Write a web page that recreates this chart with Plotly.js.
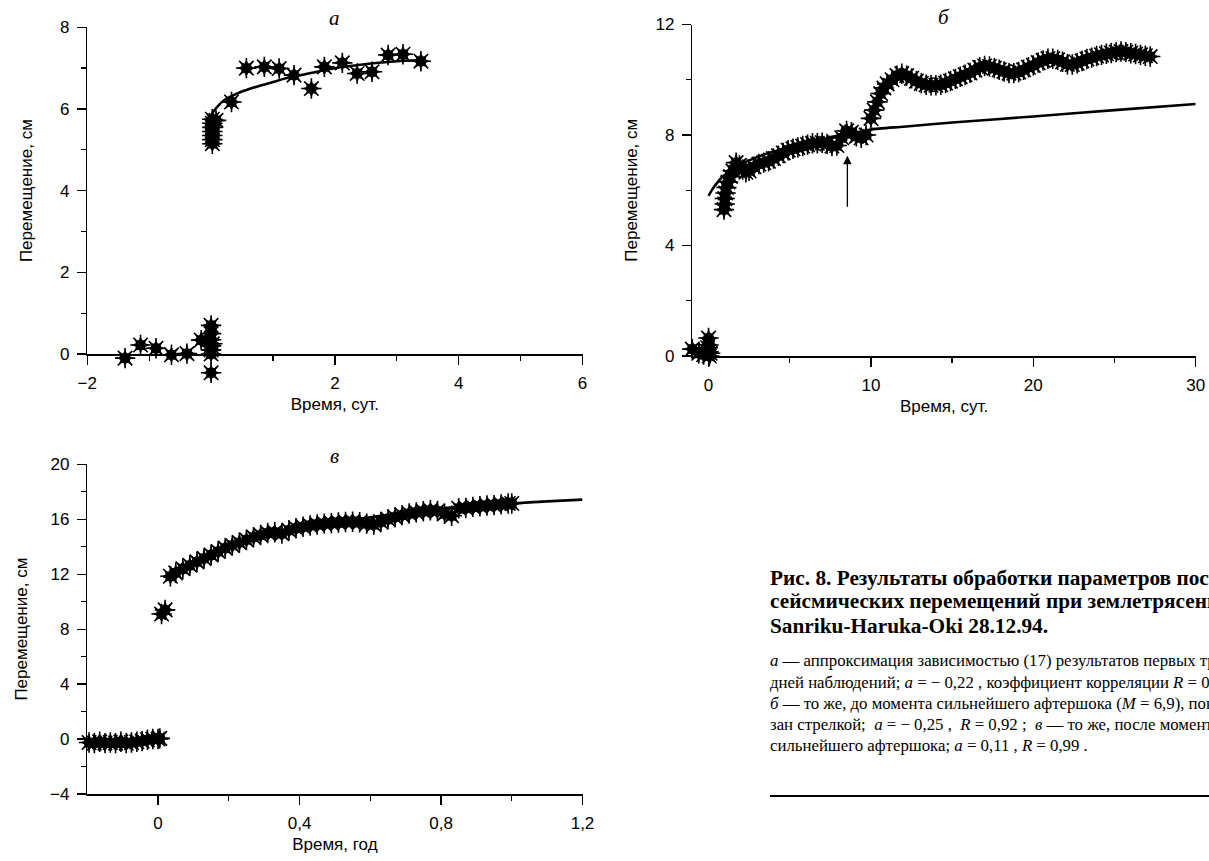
<!DOCTYPE html>
<html><head><meta charset="utf-8">
<script src="https://cdn.plot.ly/plotly-3.0.1.min.js"></script>
<style>html,body{margin:0;padding:0;background:#fff;overflow:hidden}#chart{width:1209px;height:861px}</style>
</head><body><div id="chart"></div>
<script>
// ---------- Panel а (days) ----------
const aPreX = [-1.39, -1.14, -0.89, -0.64, -0.39, -0.16, 0.0, 0.0, 0.0, 0.0, 0.0, 0.0, 0.0, 0.02];
const aPreY = [-0.10, 0.22, 0.14, -0.02, 0.01, 0.34, 0.70, 0.50, 0.35, 0.20, 0.10, 0.00, -0.46, 0.25];
const aPostX = [0.02, 0.02, 0.02, 0.02, 0.02, 0.02, 0.02, 0.08, 0.33, 0.57, 0.86, 1.10, 1.34, 1.62, 1.83, 2.12, 2.36, 2.60, 2.86, 3.10, 3.39];
const aPostY = [5.15, 5.25, 5.35, 5.45, 5.55, 5.65, 5.75, 5.72, 6.17, 7.00, 7.03, 6.99, 6.83, 6.50, 7.03, 7.13, 6.87, 6.91, 7.32, 7.34, 7.17];
const aFitX = [0.02, 0.1, 0.2, 0.47, 0.75, 1.0, 1.25, 1.55, 1.8, 2.08, 2.35, 2.62, 3.0, 3.38];
const aFitY = [5.90, 6.05, 6.20, 6.41, 6.55, 6.66, 6.77, 6.86, 6.94, 7.02, 7.07, 7.12, 7.17, 7.20];
const aXTicks = [-2, 2, 4, 6], aXMinor = [-1, 1, 3, 5];
const aYTicks = [0, 2, 4, 6, 8], aYMinor = [1, 3, 5, 7];

// ---------- Panel б (days) ----------
const bPreX = [-1.0, -0.6, -0.3, -0.15, -0.05, 0.0, 0.0, 0.0, 0.05, 0.1];
const bPreY = [0.25, 0.10, 0.05, 0.20, 0.30, 0.65, 0.40, 0.15, 0.00, 0.10];
const bPostX = [0.95, 1.0, 1.0, 1.05, 1.1, 1.2, 1.35, 1.5, 1.7, 1.9, 2.1, 2.3, 2.5, 2.8, 3.1, 3.4, 3.7, 4.0, 4.3, 4.6, 4.9, 5.2, 5.5, 5.8, 6.1, 6.4, 6.7, 7.0, 7.3, 7.6, 7.9, 8.2, 8.5, 8.8, 9.1, 9.4, 9.7, 10.0, 10.2, 10.4, 10.6, 10.8, 11.0, 11.3, 11.6, 11.9, 12.2, 12.5, 12.8, 13.1, 13.4, 13.7, 14.0, 14.3, 14.6, 14.9, 15.2, 15.5, 15.8, 16.1, 16.4, 16.7, 17.0, 17.3, 17.6, 17.9, 18.2, 18.5, 18.8, 19.1, 19.4, 19.7, 20.0, 20.3, 20.6, 20.9, 21.2, 21.5, 21.8, 22.1, 22.4, 22.7, 23.0, 23.3, 23.6, 23.9, 24.2, 24.5, 24.8, 25.1, 25.4, 25.7, 26.0, 26.3, 26.6, 26.9, 27.2];
const bPostY = [5.3, 5.5, 5.7, 5.9, 6.1, 6.3, 6.5, 6.7, 7.0, 6.9, 6.75, 6.65, 6.7, 6.85, 6.95, 7.0, 7.05, 7.15, 7.25, 7.35, 7.45, 7.5, 7.55, 7.6, 7.65, 7.7, 7.7, 7.72, 7.68, 7.6, 7.62, 7.9, 8.15, 8.1, 7.95, 7.9, 8.0, 8.6, 8.9, 9.2, 9.5, 9.7, 9.85, 10.0, 10.15, 10.22, 10.15, 10.05, 9.95, 9.87, 9.82, 9.8, 9.8, 9.82, 9.88, 9.95, 10.03, 10.11, 10.18, 10.25, 10.35, 10.45, 10.5, 10.48, 10.42, 10.36, 10.3, 10.24, 10.24, 10.28, 10.36, 10.45, 10.52, 10.62, 10.7, 10.76, 10.76, 10.72, 10.65, 10.56, 10.55, 10.6, 10.68, 10.75, 10.8, 10.86, 10.9, 10.94, 10.97, 11.0, 11.02, 11.0, 10.96, 10.93, 10.9, 10.87, 10.84];
const bFitX = [0, 0.25, 0.5, 0.75, 1, 1.5, 2, 3, 4, 5, 6, 7, 8, 9, 10, 12, 15, 20, 25, 30];
const bFitY = [5.80, 6.05, 6.25, 6.42, 6.55, 6.78, 6.95, 7.20, 7.40, 7.55, 7.70, 7.85, 7.98, 8.08, 8.20, 8.30, 8.45, 8.67, 8.90, 9.12];
const bArrowX = 8.55, bArrowFromY = 5.35, bArrowToY = 7.25;
const bXTicks = [0, 10, 20, 30], bXMinor = [5, 15, 25];
const bYTicks = [0, 4, 8, 12], bYMinor = [2, 6, 10];

// ---------- Panel в (years) ----------
const cPreX = [-0.195, -0.18, -0.165, -0.15, -0.135, -0.12, -0.105, -0.09, -0.075, -0.06, -0.045, -0.03, -0.015, 0.0, 0.005];
const cPreY = [-0.25, -0.30, -0.20, -0.30, -0.25, -0.30, -0.20, -0.30, -0.25, -0.20, -0.15, -0.05, 0.00, 0.00, 0.05];
const cPostX = [0.01, 0.02, 0.035, 0.05, 0.07, 0.09, 0.11, 0.13, 0.15, 0.17, 0.19, 0.21, 0.23, 0.25, 0.27, 0.29, 0.31, 0.33, 0.35, 0.37, 0.39, 0.41, 0.43, 0.45, 0.47, 0.49, 0.51, 0.53, 0.55, 0.57, 0.59, 0.61, 0.63, 0.65, 0.67, 0.69, 0.71, 0.73, 0.75, 0.77, 0.79, 0.81, 0.83, 0.85, 0.87, 0.89, 0.91, 0.93, 0.95, 0.97, 0.99, 1.0];
const cPostY = [9.1, 9.4, 11.85, 12.1, 12.4, 12.65, 12.9, 13.15, 13.4, 13.65, 13.9, 14.1, 14.3, 14.5, 14.7, 14.85, 15.0, 15.05, 14.95, 15.2, 15.35, 15.45, 15.55, 15.62, 15.68, 15.72, 15.76, 15.8, 15.82, 15.78, 15.68, 15.62, 15.8, 16.0, 16.15, 16.3, 16.42, 16.5, 16.58, 16.65, 16.6, 16.4, 16.25, 16.8, 16.82, 16.9, 16.95, 17.0, 17.03, 17.08, 17.15, 17.15];
const cFitX = [0.015, 0.03, 0.05, 0.1, 0.15, 0.2, 0.3, 0.4, 0.5, 0.6, 0.7, 0.8, 0.9, 1.0, 1.1, 1.2];
const cFitY = [11.8, 11.9, 12.2, 12.85, 13.4, 13.9, 14.7, 15.3, 15.75, 16.15, 16.5, 16.8, 17.0, 17.15, 17.3, 17.43];
const cXTicks = [0, 0.4, 0.8, 1.2], cXMinor = [0.2, 0.6, 1.0];
const cYTicks = [-4, 0, 4, 8, 12, 16, 20], cYMinor = [-2, 2, 6, 10, 14, 18];

// ---------- Texts ----------
const panelLetters = ['а', 'б', 'в'];
const xTitles = ['Время, сут.', 'Время, сут.', 'Время, год'];
const yTitle = 'Перемещение, см';
const captionBold = [
  'Рис. 8. Результаты обработки параметров пост-',
  'сейсмических перемещений при землетрясении',
  'Sanriku-Haruka-Oki 28.12.94.'
];
const captionBody = [
  '<i>а</i> — аппроксимация зависимостью (17) результатов первых трех',
  'дней наблюдений; <i>a</i> = − 0,22 , коэффициент корреляции <i>R</i> = 0,96 ;',
  '<i>б</i> — то же, до момента сильнейшего афтершока (<i>M</i> = 6,9), пока-',
  'зан стрелкой;  <i>a</i> = − 0,25 ,  <i>R</i> = 0,92 ;  <i>в</i> — то же, после момента',
  'сильнейшего афтершока; <i>a</i> = 0,11 , <i>R</i> = 0,99 .'
];

// ---------- Build ----------
const W = 1209, H = 861;
const SANS = 'Liberation Sans, Arial, sans-serif';
const SERIF = 'Liberation Serif, Times New Roman, serif';
const px = v => v / W, py = v => 1 - v / H;

function starTraces(x, y, xa, ya) {
  return [
    {x, y, xaxis: xa, yaxis: ya, type: 'scatter', mode: 'markers', cliponaxis: false, hoverinfo: 'skip',
     marker: {symbol: 'asterisk-open', size: 17, color: '#000', line: {width: 1.6, color: '#000'}}},
    {x, y, xaxis: xa, yaxis: ya, type: 'scatter', mode: 'markers', cliponaxis: false, hoverinfo: 'skip',
     marker: {symbol: 'star-diamond', size: 13, color: '#000', line: {width: 0}}},
    {x, y, xaxis: xa, yaxis: ya, type: 'scatter', mode: 'markers', cliponaxis: false, hoverinfo: 'skip',
     marker: {symbol: 'star-square', size: 12, color: '#000', line: {width: 0}}}
  ];
}
function fitTrace(x, y, xa, ya) {
  return {x, y, xaxis: xa, yaxis: ya, type: 'scatter', mode: 'lines', hoverinfo: 'skip',
          line: {color: '#000', width: 2.6, shape: 'spline', smoothing: 0.6}};
}

// panel а markers go on a hidden twin y-axis with the same scale that extends below zero,
// so the points lying slightly under the zero line are not hidden
const traces = [].concat(
  starTraces(aPreX, aPreY, 'x', 'y4'), starTraces(aPostX, aPostY, 'x', 'y4'), [fitTrace(aFitX, aFitY, 'x', 'y')],
  [fitTrace(bFitX, bFitY, 'x2', 'y2')], starTraces(bPreX, bPreY, 'x2', 'y2'), starTraces(bPostX, bPostY, 'x2', 'y2'),
  starTraces(cPreX, cPreY, 'x3', 'y3'), starTraces(cPostX, cPostY, 'x3', 'y3'), [fitTrace(cFitX, cFitY, 'x3', 'y3')]
);

function axis(domain, range, ticks, minor, anchor, titleText, standoff) {
  return {
    domain, range, anchor, tickmode: 'array', tickvals: ticks,
    showline: true, linecolor: '#000', linewidth: 1.5, showgrid: false, zeroline: false,
    ticks: 'outside', ticklen: 9, tickwidth: 1.3, tickcolor: '#000',
    ticklabelstandoff: 4,
    minor: {tickmode: 'array', tickvals: minor, ticks: 'outside', ticklen: 5, tickwidth: 1.3, tickcolor: '#000', showgrid: false},
    tickfont: {family: SANS, size: 17, color: '#000'},
    title: {text: titleText, font: {family: SANS, size: 17, color: '#000'}, standoff},
    fixedrange: true, automargin: false
  };
}

const aTop = 27.3, aBot = 354, aLow = -0.8;
const aXd = [px(87.3), px(582.5)], aYd = [py(aBot), py(aTop)];
const aYd4 = [py(aBot + (-aLow) * (aBot - aTop) / 8), py(aTop)];
const bXd = [px(692.3), px(1195.7)], bYd = [py(356), py(24.5)];
const cXd = [px(87.3), px(582.5)], cYd = [py(794), py(464.3)];

const letterFont = {family: SERIF, size: 21, style: 'italic', color: '#000'};
const annotations = [
  {text: panelLetters[0], x: (aXd[0] + aXd[1]) / 2, y: py(18), xref: 'paper', yref: 'paper', xanchor: 'center', yanchor: 'middle', showarrow: false, font: letterFont},
  {text: panelLetters[1], x: (bXd[0] + bXd[1]) / 2, y: py(17), xref: 'paper', yref: 'paper', xanchor: 'center', yanchor: 'middle', showarrow: false, font: letterFont},
  {text: panelLetters[2], x: (cXd[0] + cXd[1]) / 2, y: py(456), xref: 'paper', yref: 'paper', xanchor: 'center', yanchor: 'middle', showarrow: false, font: letterFont},
  {x: bArrowX, y: bArrowToY, ax: bArrowX, ay: bArrowFromY, xref: 'x2', yref: 'y2', axref: 'x2', ayref: 'y2',
   showarrow: true, arrowhead: 2, arrowsize: 1.3, arrowwidth: 1.3, arrowcolor: '#000', text: ''}
];
const boldY = [578, 601, 626], bodyY = [660, 682, 703, 724, 745];
captionBold.forEach((t, i) => annotations.push({text: '<b>' + t + '</b>', x: px(768), y: py(boldY[i]), xref: 'paper', yref: 'paper',
  xanchor: 'left', yanchor: 'middle', showarrow: false, font: {family: SERIF, size: 21.3, color: '#000'}}));
captionBody.forEach((t, i) => annotations.push({text: t, x: px(768), y: py(bodyY[i]), xref: 'paper', yref: 'paper',
  xanchor: 'left', yanchor: 'middle', showarrow: false, font: {family: SERIF, size: 16.8, color: '#000'}}));

const layout = {
  width: W, height: H, margin: {l: 0, r: 0, t: 0, b: 0},
  paper_bgcolor: '#fff', plot_bgcolor: 'rgba(0,0,0,0)', showlegend: false, separators: ', ',
  xaxis: axis(aXd, [-2, 6], aXTicks, aXMinor, 'y', xTitles[0], 6),
  yaxis: axis(aYd, [0, 8], aYTicks, aYMinor, 'x', yTitle, 23),
  yaxis4: {domain: aYd4, range: [aLow, 8], anchor: 'x', visible: false, fixedrange: true, showgrid: false, zeroline: false},
  xaxis2: axis(bXd, [-1, 30], bXTicks, bXMinor, 'y2', xTitles[1], 6),
  yaxis2: axis(bYd, [0, 12], bYTicks, bYMinor, 'x2', yTitle, 13),
  xaxis3: axis(cXd, [-0.2, 1.2], cXTicks, cXMinor, 'y3', xTitles[2], 6),
  yaxis3: axis(cYd, [-4, 20], cYTicks, cYMinor, 'x3', yTitle, 18),
  annotations,
  shapes: [{type: 'line', xref: 'paper', yref: 'paper', x0: px(770), x1: 1, y0: py(796), y1: py(796), line: {color: '#000', width: 2}}]
};
Plotly.newPlot('chart', traces, layout, {staticPlot: true, displayModeBar: false});
</script></body></html>
